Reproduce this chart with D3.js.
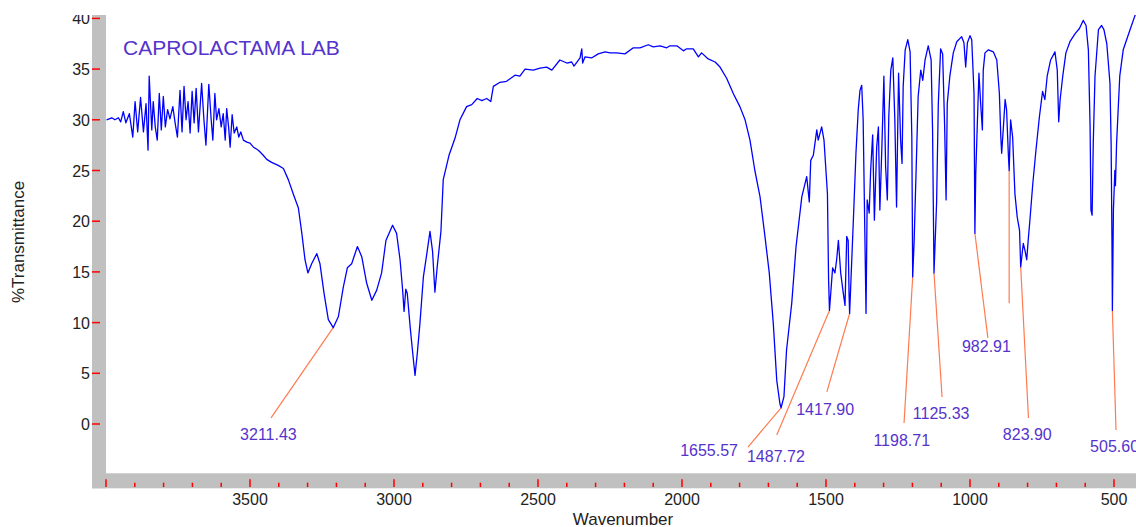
<!DOCTYPE html>
<html>
<head>
<meta charset="utf-8">
<script src="https://cdn.jsdelivr.net/npm/d3@7"></script>
<style>
  html, body { margin: 0; padding: 0; background: #fff; }
  svg { display: block; font-family: "Liberation Sans", Arial, sans-serif; }
</style>
</head>
<body>
<div id="chart"></div>
<script>
// IR spectrum, [wavenumber (cm-1), %T]
const spectrum = [
  [3998,30.0],[3980,30.2],[3969,30.0],[3957,30.2],[3949,29.8],[3940,30.8],[3931,29.7],[3919,30.6],
  [3907,28.3],[3899,31.8],[3890,28.8],[3880,32.2],[3870,28.8],[3861,31.6],[3854,27.0],[3850,34.3],
  [3841,29.0],[3836,31.8],[3829,29.3],[3822,28.0],[3815,32.6],[3808,29.0],[3801,32.3],[3794,29.3],
  [3786,31.0],[3778,30.1],[3768,31.3],[3760,29.7],[3752,28.3],[3743,32.9],[3736,28.8],[3729,33.3],
  [3722,30.0],[3715,31.8],[3708,28.7],[3701,32.8],[3694,29.7],[3687,33.1],[3679,28.8],[3668,33.6],
  [3660,30.0],[3653,27.5],[3643,33.5],[3635,30.1],[3629,28.0],[3622,32.6],[3616,30.0],[3608,31.1],
  [3600,29.3],[3593,30.6],[3586,28.0],[3581,31.1],[3574,29.2],[3569,27.3],[3562,30.5],[3555,28.7],
  [3546,29.3],[3539,28.3],[3532,28.8],[3523,28.0],[3511,27.8],[3500,27.7],[3488,27.3],[3471,27.0],
  [3454,26.5],[3442,26.1],[3425,25.8],[3402,25.5],[3384,25.2],[3367,24.1],[3350,22.7],[3332,21.3],
  [3320,18.8],[3309,16.2],[3299,14.9],[3286,15.8],[3268,16.8],[3257,15.8],[3243,12.9],[3228,10.3],
  [3211,9.5],[3193,10.6],[3176,13.5],[3162,15.4],[3147,15.8],[3127,17.5],[3112,16.5],[3095,13.9],
  [3077,12.2],[3060,13.2],[3043,14.9],[3028,18.1],[3005,19.6],[2991,18.8],[2979,16.2],[2970,13.2],
  [2965,11.1],[2959,13.3],[2954,12.9],[2944,9.6],[2935,7.0],[2927,4.8],[2919,7.0],[2910,9.9],
  [2898,14.5],[2886,16.8],[2875,19.0],[2866,17.0],[2858,13.0],[2850,15.5],[2837,19.0],[2829,24.1],
  [2809,26.5],[2788,28.2],[2771,30.0],[2748,31.3],[2730,31.5],[2711,32.1],[2695,31.9],[2678,32.1],
  [2664,31.8],[2655,33.3],[2632,33.7],[2609,33.8],[2580,34.4],[2563,34.3],[2545,35.0],[2516,34.9],
  [2493,35.1],[2470,35.2],[2452,34.9],[2424,35.9],[2400,35.6],[2383,35.7],[2375,35.3],[2354,36.1],
  [2348,37.0],[2345,35.6],[2337,36.2],[2314,36.1],[2291,36.5],[2267,36.7],[2250,36.6],[2227,36.6],
  [2198,36.5],[2169,37.1],[2146,37.1],[2117,37.4],[2100,37.2],[2076,37.3],[2053,37.1],[2042,37.3],
  [2018,37.3],[1995,36.8],[1984,37.0],[1961,37.0],[1943,36.2],[1932,36.6],[1909,36.0],[1885,35.7],
  [1868,35.2],[1845,34.1],[1822,32.6],[1799,31.3],[1781,30.0],[1764,28.0],[1747,25.0],[1729,22.4],
  [1712,18.5],[1697,14.9],[1683,9.9],[1671,4.3],[1660,2.0],[1656,1.6],[1646,2.7],[1637,7.3],
  [1619,11.9],[1604,17.5],[1584,22.4],[1567,24.4],[1558,21.9],[1553,26.0],[1544,26.5],[1532,29.0],
  [1527,28.0],[1515,29.3],[1507,28.0],[1495,22.7],[1491,14.2],[1488,11.2],[1477,15.4],[1469,14.9],
  [1463,16.2],[1457,18.1],[1449,14.9],[1440,12.9],[1434,11.7],[1428,18.5],[1423,18.1],[1420,12.9],
  [1418,10.9],[1405,20.1],[1396,26.7],[1388,31.0],[1382,32.9],[1376,33.4],[1371,30.0],[1367,22.4],
  [1361,10.9],[1357,22.1],[1350,20.8],[1345,25.0],[1338,28.5],[1332,20.1],[1324,27.3],[1318,29.3],
  [1313,21.1],[1306,27.3],[1299,34.3],[1293,25.4],[1287,22.1],[1282,30.3],[1275,34.9],[1268,36.1],
  [1261,30.0],[1255,21.4],[1248,34.6],[1241,28.0],[1236,25.7],[1232,33.3],[1225,36.9],[1216,37.9],
  [1208,36.7],[1202,28.3],[1199,14.5],[1194,18.0],[1188,24.1],[1180,32.3],[1171,34.9],[1164,33.9],
  [1156,35.9],[1145,37.3],[1135,35.9],[1130,29.0],[1125,14.9],[1116,21.8],[1110,31.6],[1102,37.0],
  [1095,36.5],[1088,29.3],[1083,22.1],[1079,31.6],[1070,34.3],[1058,36.6],[1046,37.7],[1029,38.2],
  [1021,37.6],[1015,35.2],[1009,37.6],[1000,38.3],[994,37.9],[986,32.6],[983,18.8],[980,24.7],
  [969,34.6],[963,31.6],[957,29.0],[954,34.9],[948,36.6],[936,36.9],[919,36.7],[907,35.9],
  [898,32.6],[893,28.3],[890,26.7],[884,29.3],[878,32.0],[873,31.0],[867,26.7],[864,25.0],
  [859,30.0],[852,28.3],[844,22.7],[836,20.4],[828,19.1],[824,15.5],[815,17.8],[809,17.1],
  [803,16.2],[798,18.1],[792,20.1],[782,23.7],[771,27.0],[759,30.3],[748,32.8],[740,32.0],
  [732,34.3],[720,35.9],[705,36.7],[697,34.9],[692,29.8],[687,32.0],[678,34.3],[667,36.6],
  [653,37.7],[635,38.5],[620,39.0],[607,39.8],[597,39.3],[589,36.9],[583,29.3],[580,21.1],
  [576,20.6],[572,27.7],[566,34.3],[554,38.9],[543,39.3],[535,38.9],[525,37.5],[514,33.6],
  [510,27.7],[507,17.8],[505.6,11.2],[502,21.1],[497,25.0],[495,23.5],[491,27.7],[480,34.3],
  [468,36.9],[444,38.9],[427,40.3],[410,41.0]
];

// picked peaks
const peakLabels = ["3211.43", "1655.57", "1487.72", "1417.90", "1198.71", "1125.33", "982.91", "823.90", "505.60", ""];
const peakPoints = [[3211, 9.5], [1656, 1.6], [1488, 11.2], [1418, 10.9], [1199, 14.5], [1125, 14.9], [983, 18.8], [824, 15.5], [505.6, 11.2], [864, 25.0]];

const yTicks = [0, 5, 10, 15, 20, 25, 30, 35, 40];
const xMajor = [4000, 3500, 3000, 2500, 2000, 1500, 1000, 500];
const xLabels = [3500, 3000, 2500, 2000, 1500, 1000, 500];

// where the leader lines end and the labels sit, in chart units
const leaderEnds = [[3427, 0.6], [1771, -2.27], [1671, -1.08], [1497, 3.16], [1229, 0.1], [1097, 2.66], [938, 8.5], [797, 0.6], [493, -0.6], [864, 11.9]];
const labelSpots = [[3436, -1.6, "middle"], [1906, -3.16, "middle"], [1674, -3.75, "middle"], [1503, 0.9, "middle"],
  [1237, -2.17, "middle"], [1100, 0.49, "middle"], [943, 7.1, "middle"], [801, -1.58, "middle"], [583, -2.73, "start"], [864, 0, "middle"]];

const W = 1136, H = 527;
const plotLeft = 106, plotTop = 15, plotBottom = 473.3;

const svg = d3.select("#chart")
    .append("svg")
    .attr("width", W)
    .attr("height", H);

const x = d3.scaleLinear().domain([4000, 400]).range([plotLeft, plotLeft + 3600 * 0.288]);
const y = d3.scaleLinear().domain([0, 40]).range([424, 18.4]);

svg.append("defs").append("clipPath")
    .attr("id", "plot")
    .append("rect")
    .attr("x", plotLeft).attr("y", plotTop)
    .attr("width", W - plotLeft).attr("height", plotBottom - plotTop);

// gray frame
svg.append("rect")
    .attr("x", 92).attr("y", plotTop)
    .attr("width", plotLeft - 92).attr("height", plotBottom - plotTop + 15)
    .attr("fill", "#c0c0c0");
svg.append("rect")
    .attr("x", 92).attr("y", plotBottom)
    .attr("width", W - 92).attr("height", 15)
    .attr("fill", "#c0c0c0");

// y ticks
svg.selectAll(".ytick")
    .data(yTicks)
    .enter().append("line")
    .attr("x1", 92).attr("x2", 100)
    .attr("y1", d => y(d)).attr("y2", d => y(d))
    .attr("stroke", "#ff0000")
    .attr("stroke-width", 1.5);

svg.selectAll(".ylab")
    .data(yTicks)
    .enter().append("text")
    .attr("x", 90)
    .attr("y", d => y(d) + 6)
    .attr("text-anchor", "end")
    .attr("font-size", 16)
    .attr("fill", "#222")
    .text(d => d);

// x ticks
const xMinor = d3.range(4000, 400, -100).filter(d => d % 500 !== 0);
svg.selectAll(".xminor")
    .data(xMinor)
    .enter().append("line")
    .attr("x1", d => x(d)).attr("x2", d => x(d))
    .attr("y1", 482.7).attr("y2", 487)
    .attr("stroke", "#ff0000")
    .attr("stroke-width", 1.5);

svg.selectAll(".xmajor")
    .data(xMajor)
    .enter().append("line")
    .attr("x1", d => x(d)).attr("x2", d => x(d))
    .attr("y1", 479.3).attr("y2", 487)
    .attr("stroke", "#ff0000")
    .attr("stroke-width", 1.5);

svg.selectAll(".xlab")
    .data(xLabels)
    .enter().append("text")
    .attr("x", d => x(d))
    .attr("y", 505)
    .attr("text-anchor", "middle")
    .attr("font-size", 16)
    .attr("fill", "#222")
    .text(d => d);

// axis titles
svg.append("text")
    .attr("x", 623).attr("y", 525)
    .attr("text-anchor", "middle")
    .attr("font-size", 17)
    .attr("fill", "#222")
    .text("Wavenumber");

svg.append("text")
    .attr("transform", "translate(24,242) rotate(-90)")
    .attr("text-anchor", "middle")
    .attr("font-size", 17)
    .attr("fill", "#222")
    .text("%Transmittance");

const plot = svg.append("g").attr("clip-path", "url(#plot)");

// leader lines
plot.selectAll(".leader")
    .data(peakPoints)
    .enter().append("line")
    .attr("x1", d => x(d[0])).attr("y1", d => y(d[1]))
    .attr("x2", (d, i) => x(leaderEnds[i][0])).attr("y2", (d, i) => y(leaderEnds[i][1]))
    .attr("stroke", "#ff7a50")
    .attr("stroke-width", 1.2);

const line = d3.line()
    .x(d => x(d[0]))
    .y(d => y(d[1]));

plot.append("path")
    .datum(spectrum)
    .attr("fill", "none")
    .attr("stroke", "#0000ff")
    .attr("stroke-width", 1.3)
    .attr("stroke-linejoin", "round")
    .attr("d", line);

plot.selectAll(".plab")
    .data(peakLabels)
    .enter().append("text")
    .attr("x", (d, i) => x(labelSpots[i][0]))
    .attr("y", (d, i) => y(labelSpots[i][1]))
    .attr("text-anchor", (d, i) => labelSpots[i][2])
    .attr("font-size", 16)
    .attr("fill", "#5533cc")
    .text(d => d);

svg.append("text")
    .attr("x", 123).attr("y", 55)
    .attr("font-size", 21)
    .attr("fill", "#5533cc")
    .text("CAPROLACTAMA LAB");

// the original picture is cut off at the top
svg.append("rect")
    .attr("x", 0).attr("y", 0)
    .attr("width", W).attr("height", plotTop)
    .attr("fill", "#fff");
</script>
</body>
</html>
